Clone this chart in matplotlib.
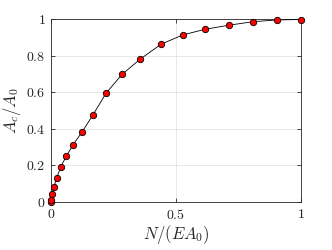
import matplotlib
matplotlib.use('Agg')
import matplotlib.pyplot as plt
from matplotlib.ticker import FuncFormatter

plt.rcParams['mathtext.fontset'] = 'cm'
plt.rcParams['font.family'] = 'serif'
plt.rcParams['font.serif'] = ['cmr10', 'DejaVu Serif']
plt.rcParams['axes.formatter.use_mathtext'] = True

# normalised load vs contact area ratio
load = [0.0, 0.001, 0.004, 0.011, 0.023, 0.039, 0.061, 0.089, 0.124, 0.167,
        0.220, 0.284, 0.357, 0.440, 0.527, 0.617, 0.711, 0.807, 0.904, 1.0]
area = [0.0, 0.011, 0.042, 0.080, 0.132, 0.192, 0.250, 0.314, 0.382, 0.474,
        0.594, 0.697, 0.781, 0.862, 0.913, 0.944, 0.966, 0.985, 0.995, 0.997]

xticks = [0, 0.5, 1]
yticks = [0, 0.2, 0.4, 0.6, 0.8, 1]

fig = plt.figure(figsize=(3.32, 2.5), dpi=100)
ax = fig.add_axes([51/332, 48/250, 250/332, 183/250])

ax.plot(load, area, '-o', color='black', lw=0.6,
        markerfacecolor='red', markeredgecolor='black', markeredgewidth=0.6,
        markersize=4.6, clip_on=False, zorder=3)

ax.set_xlim(0, 1)
ax.set_ylim(0, 1)
ax.set_xticks(xticks)
ax.set_yticks(yticks)
fmt = FuncFormatter(lambda v, p: '$%g$' % v)
ax.xaxis.set_major_formatter(fmt)
ax.yaxis.set_major_formatter(fmt)
ax.grid(True, color='#e3e3e3', lw=0.6)
ax.set_axisbelow(True)
ax.tick_params(direction='in', top=True, right=True, length=3, width=0.6,
               color='#262626', labelsize=10, labelcolor='#262626', pad=4)
for s in ax.spines.values():
    s.set_color('#262626')
    s.set_linewidth(0.6)

ax.set_xlabel(r'$N/(EA_0)$', fontsize=12, color='#262626', labelpad=1)
ax.set_ylabel(r'$A_c/A_0$', fontsize=12, color='#262626', labelpad=2)

fig.savefig('out.png', dpi=100)
